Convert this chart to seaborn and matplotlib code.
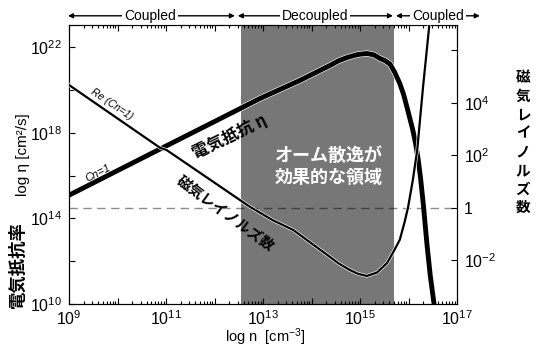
import numpy as np
import pandas as pd
import matplotlib
matplotlib.use("Agg")
import matplotlib.pyplot as plt
import matplotlib.ticker as mticker
import matplotlib.patheffects as pe
import seaborn as sns

# ---------------- data (log10 values) ----------------
log_n_eta = [9.0, 10.0, 10.88, 12.0, 12.94, 13.76, 14.38, 14.55, 14.73, 14.95, 15.14,
             15.28, 15.41, 15.52, 15.62, 15.72, 15.82, 15.90, 15.97, 16.03, 16.09,
             16.15, 16.20, 16.25, 16.31, 16.38, 16.45, 16.53, 16.56]
log_eta = [15.08, 16.23, 17.24, 18.52, 19.60, 20.44, 21.14, 21.35, 21.51, 21.65, 21.70,
           21.64, 21.47, 21.36, 21.20, 20.80, 20.30, 19.78, 19.18, 18.65, 18.11,
           17.45, 16.75, 15.85, 14.55, 12.80, 11.30, 9.95, 9.50]

log_n_re = [9.0, 10.88, 11.01, 12.73, 13.20, 13.62, 14.32, 14.55, 14.79, 14.95, 15.14,
            15.35, 15.56, 15.70, 15.82, 15.92, 15.99, 16.09, 16.18, 16.30, 16.44]
log_re = [4.68, 2.28, 2.20, 0.03, -0.48, -0.85, -1.80, -2.12, -2.38, -2.52, -2.61,
          -2.48, -2.11, -1.65, -1.23, -0.55, 0.00, 1.06, 2.20, 4.61, 7.16]

ohmic_region = [12.55, 15.70]          # log n range where Ohmic dissipation is effective
x_ticks_exp = [9, 10, 11, 12, 13, 14, 15, 16, 17]
x_label_exp = [9, 11, 13, 15, 17]
left_ticks_exp = [10, 12, 14, 16, 18, 20, 22]
left_label_exp = [10, 14, 18, 22]
right_ticks_exp = [-2, 0, 2, 4, 6]
right_tick_labels = ["$10^{-2}$", "1", "$10^{2}$", "$10^{4}$", ""]
regimes = ["Coupled", "Decoupled", "Coupled"]

eta_df = pd.DataFrame({"n": np.power(10.0, log_n_eta), "eta": np.power(10.0, log_eta)})
re_df = pd.DataFrame({"n": np.power(10.0, log_n_re), "Re": np.power(10.0, log_re)})

# ---------------- style ----------------
sns.set_style("ticks")
plt.rcParams["font.family"] = ["Liberation Sans", "Noto Sans CJK JP"]
plt.rcParams["mathtext.fontset"] = "custom"
plt.rcParams["mathtext.rm"] = "Liberation Sans"
plt.rcParams["mathtext.it"] = "Liberation Sans:italic"
plt.rcParams["mathtext.default"] = "regular"
plt.rcParams["axes.linewidth"] = 0.8
for key in ["text.color", "axes.labelcolor", "xtick.color", "ytick.color",
            "axes.edgecolor", "xtick.labelcolor", "ytick.labelcolor"]:
    plt.rcParams[key] = "black"

JP = ["Noto Sans CJK JP", "Liberation Sans"]

fig = plt.figure(figsize=(5.42, 3.48), dpi=100)
ax = fig.add_axes([69 / 542, 44 / 348, 388 / 542, 279 / 348])
ax2 = ax.twinx()

ax.set_xscale("log")
ax.set_yscale("log")
ax2.set_yscale("log")
ax.set_xlim(1e9, 1e17)
ax.set_ylim(1e10, 10 ** 23.03)
ax2.set_ylim(10 ** -3.68, 10 ** 6.97)

# shaded region
ax.axvspan(10 ** ohmic_region[0], 10 ** ohmic_region[1], color="#777777", lw=0, zorder=0)

# dashed Re = 1 line
ax2.axhline(1.0, color="black", alpha=0.45, lw=1.0, dashes=(6, 4), zorder=1)

# curves
halo_thick = [pe.Stroke(linewidth=4.4, foreground="white"), pe.Normal()]
halo_thin = [pe.Stroke(linewidth=2.5, foreground="white"), pe.Normal()]
sns.lineplot(data=eta_df, x="n", y="eta", ax=ax, color="black", lw=3.5,
             sort=False, estimator=None, path_effects=halo_thick, zorder=3)
sns.lineplot(data=re_df, x="n", y="Re", ax=ax2, color="black", lw=1.6,
             sort=False, estimator=None, path_effects=halo_thin, zorder=3)

# ticks
ax.xaxis.set_major_locator(mticker.FixedLocator([10.0 ** e for e in x_ticks_exp]))
ax.xaxis.set_major_formatter(mticker.FixedFormatter(
    ["$10^{%d}$" % e if e in x_label_exp else "" for e in x_ticks_exp]))
ax.xaxis.set_minor_locator(mticker.LogLocator(base=10, subs=np.arange(2, 10), numticks=50))
ax.xaxis.set_minor_formatter(mticker.NullFormatter())

ax.yaxis.set_major_locator(mticker.FixedLocator([10.0 ** e for e in left_ticks_exp]))
ax.yaxis.set_major_formatter(mticker.FixedFormatter(
    ["$10^{%d}$" % e if e in left_label_exp else "" for e in left_ticks_exp]))
ax.yaxis.set_minor_locator(mticker.NullLocator())

ax2.yaxis.set_major_locator(mticker.FixedLocator([10.0 ** e for e in right_ticks_exp]))
ax2.yaxis.set_major_formatter(mticker.FixedFormatter(right_tick_labels))
ax2.yaxis.set_minor_locator(mticker.NullLocator())

ax.tick_params(axis="x", which="both", direction="in", top=True, bottom=True,
               labelsize=11.5, pad=3.5, width=0.8, colors="black")
ax.tick_params(axis="x", which="major", length=4)
ax.tick_params(axis="x", which="minor", length=2)
ax.tick_params(axis="y", which="major", direction="in", left=True, right=False,
               labelsize=11.5, length=4, width=0.8, pad=5, colors="black")
ax2.tick_params(axis="y", which="major", direction="in", right=True, left=False,
                labelsize=11.5, length=4, width=0.8, pad=5, colors="black")

ax.set_xlabel("")
ax.set_ylabel("")
ax2.set_ylabel("")

for a in (ax, ax2):
    for s in ["top", "right", "left", "bottom"]:
        a.spines[s].set_visible(True)
        a.spines[s].set_color("black")

# axis titles
def px(xp, yp):
    return (xp / 542, 1 - yp / 348)

fig.text(*px(265, 337), "log n  [cm$^{-3}$]", ha="center", va="center", fontsize=10.5)
fig.text(18 / 542, 1 - 265 / 348, "電気抵抗率", rotation=90, ha="center", va="center",
         fontsize=12.5, fontweight="bold", family=JP)
fig.text(23 / 542, 1 - 155 / 348, "log η [cm²/s]", rotation=90, ha="center", va="center",
         fontsize=11)
fig.text(523 / 542, 1 - 142 / 348, "\n".join("磁気レイノルズ数"), ha="center", va="center",
         fontsize=10.5, fontweight="bold", family=JP, linespacing=1.2)

# in-plot labels
fig.text(*px(112, 104), "Re (Cn=1)", rotation=-34, ha="center", va="center",
         fontsize=7.5, style="italic")
fig.text(*px(98, 173), "Cn=1", rotation=27, ha="center", va="center",
         fontsize=8, style="italic")
fig.text(*px(230, 137), "電気抵抗 η", rotation=26, ha="center", va="center",
         fontsize=12, fontweight="bold", family=JP)
fig.text(*px(226, 213), "磁気レイノルズ数", rotation=-36, ha="center", va="center",
         fontsize=10.5, fontweight="bold", family=JP)
fig.text(*px(329, 166), "オーム散逸が\n効果的な領域", ha="center", va="center",
         fontsize=13, fontweight="bold", color="white", family=JP, linespacing=1.2)

# regime arrows on top
trans = ax.get_xaxis_transform()
arrow_y = 1.033
segments = [(8.98, 12.42, 10.67), (12.48, 15.68, 14.07), (15.74, 17.47, 16.61)]
for (x0, x1, xc), lab in zip(segments, regimes):
    ax.annotate("", xy=(10 ** x1, arrow_y), xytext=(10 ** x0, arrow_y), xycoords=trans,
                textcoords=trans, annotation_clip=False,
                arrowprops=dict(arrowstyle="<|-|>", color="black", lw=1.0,
                                mutation_scale=7, shrinkA=0, shrinkB=0))
    ax.text(10 ** xc, arrow_y, lab, transform=trans, ha="center", va="center",
            fontsize=10, clip_on=False,
            bbox=dict(fc="white", ec="none", pad=1.5))

fig.savefig("out.png", dpi=100)
